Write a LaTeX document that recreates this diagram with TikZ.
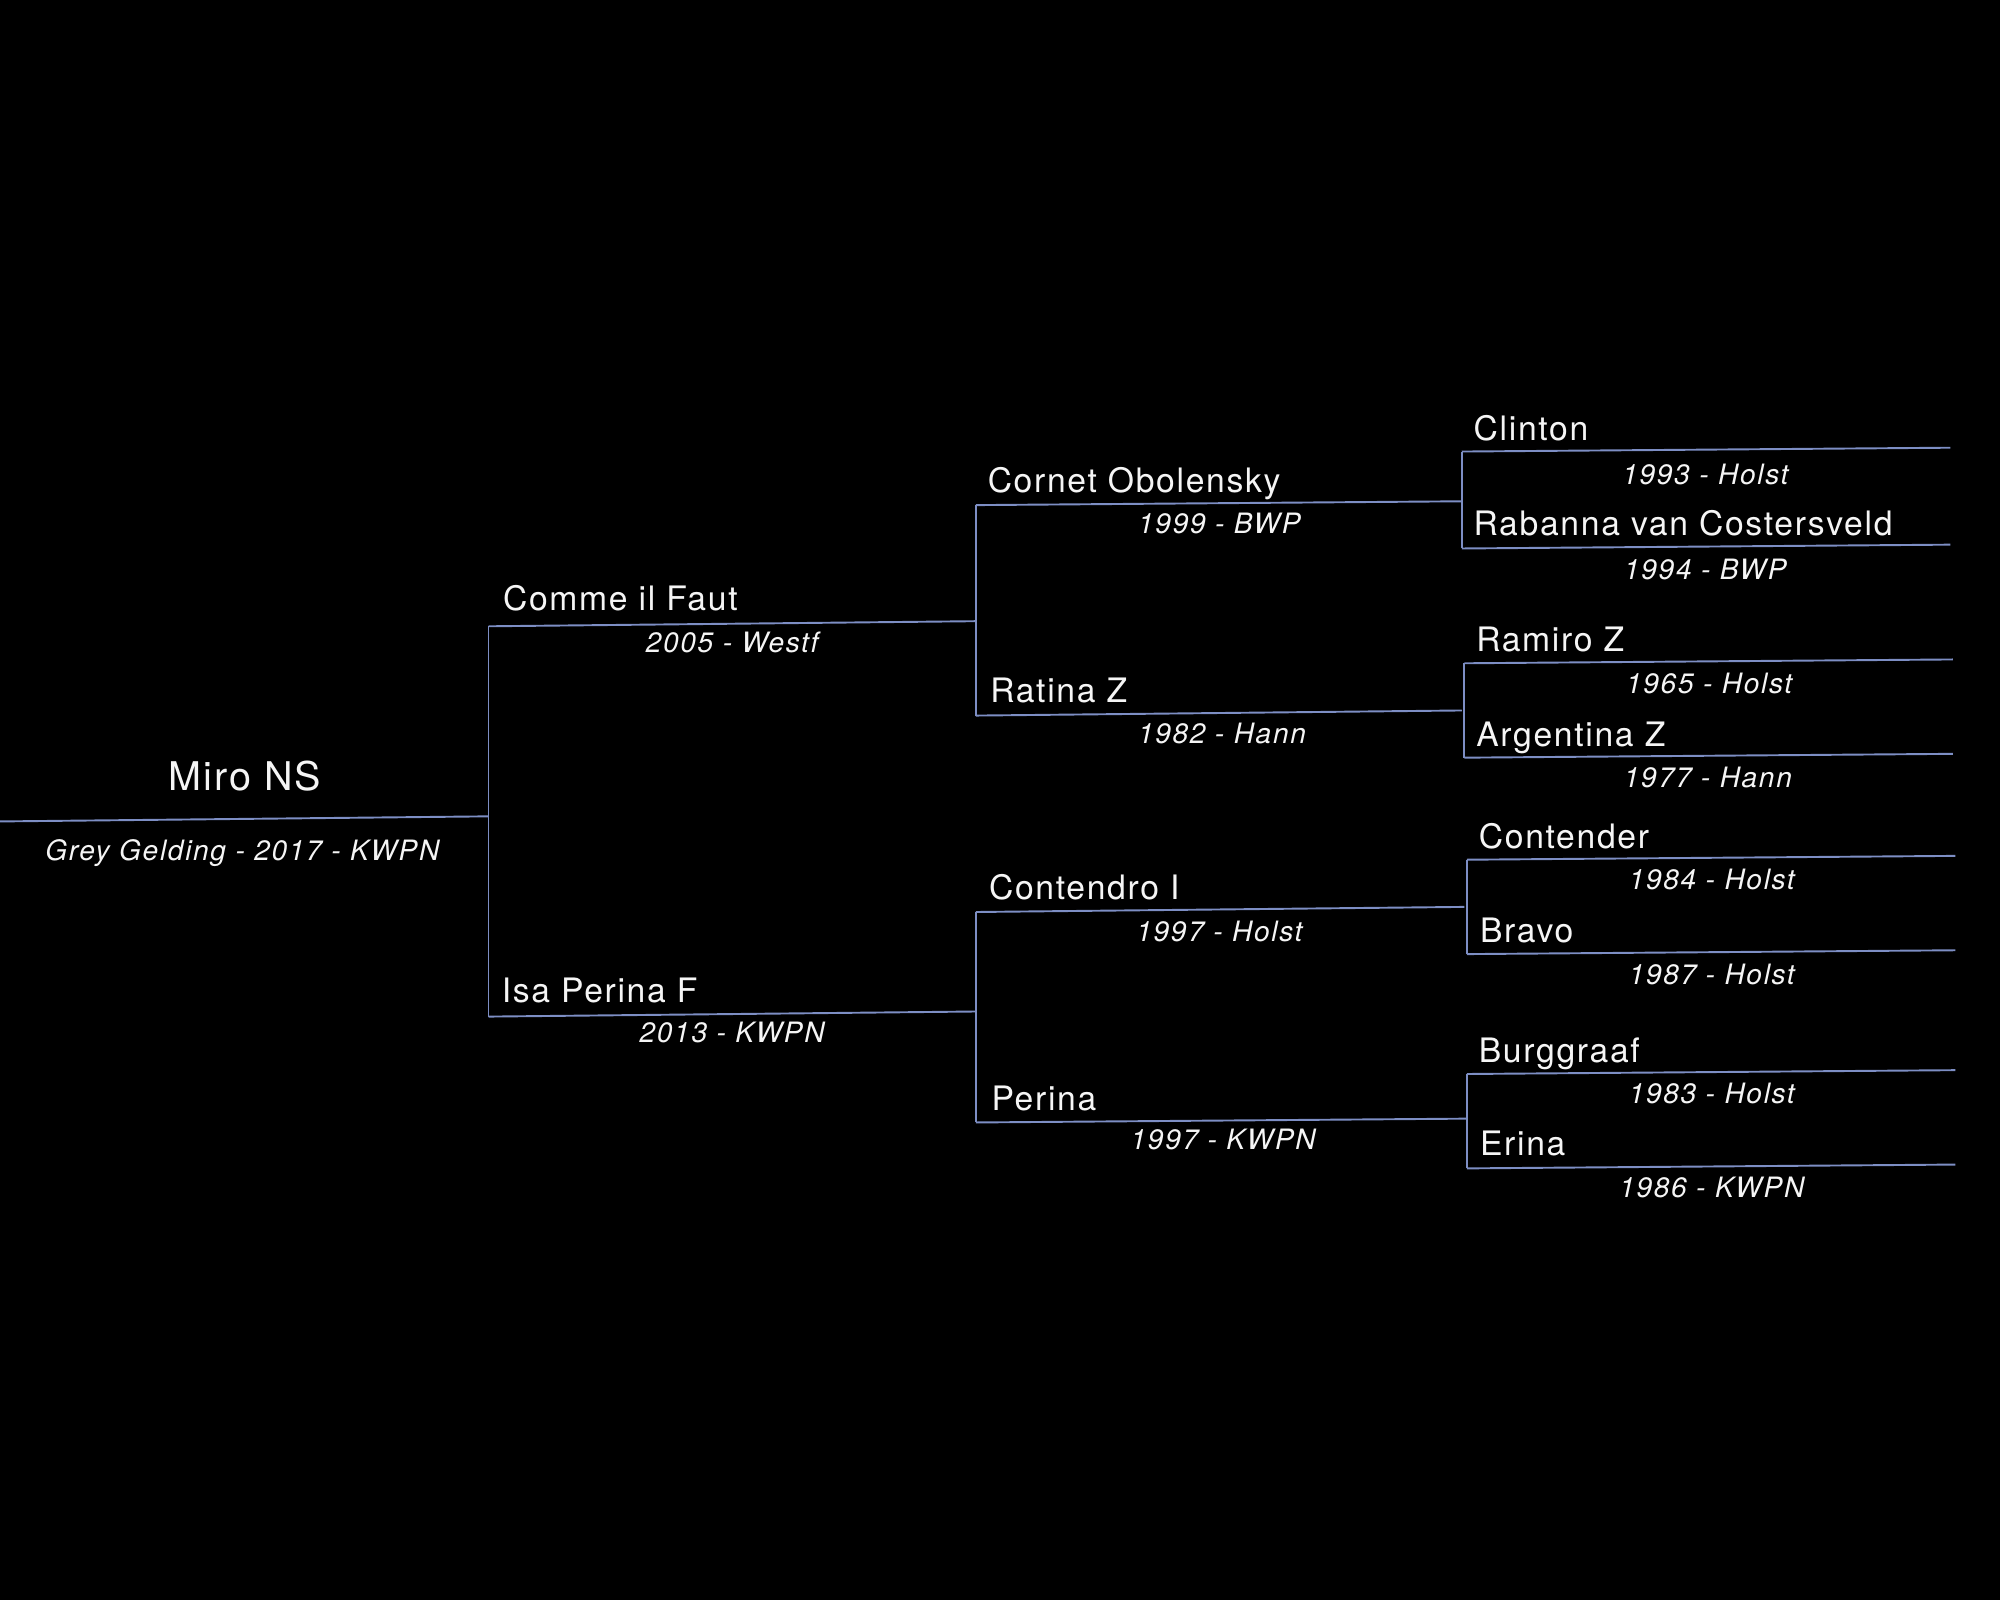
\documentclass[tikz,border=0pt]{standalone}
\usepackage{fontspec}
\usepackage{tikz}
\newfontfamily\horsefont[LetterSpace=5]{TeX Gyre Heros}
\newfontfamily\infofont[LetterSpace=6]{TeX Gyre Heros}
\definecolor{linkblue}{RGB}{125,142,196}
\definecolor{inktext}{RGB}{245,245,245}
\tikzset{
  horse/.style={anchor=base west, inner sep=0pt, text=inktext,
                font=\horsefont\fontsize{13.2}{15}\selectfont},
  subject/.style={anchor=base, inner sep=0pt, text=inktext,
                  font=\horsefont\fontsize{15.5}{18}\selectfont},
  info/.style={anchor=base, inner sep=0pt, text=inktext,
               font=\infofont\itshape\fontsize{11}{13}\selectfont},
  link/.style={draw=linkblue, line width=0.75pt},
}

\begin{document}
\begin{tikzpicture}[x=0.5pt, y=-0.5pt]
  \fill[black] (0,0) rectangle (1568,1254);
  \useasboundingbox (0,0) rectangle (1568,1254);

  % subject
  \coordinate (miro-l) at (0,644);
  \coordinate (miro-r) at (383,640);
  \node[subject] (miro) at (192,620) {Miro NS};
  \node[info] (miro-i) at (190,674.5) {Grey Gelding - 2017 - KWPN};

  % parents
  \coordinate (comme-l) at (383,491);
  \coordinate (comme-r) at (765,487);
  \node[horse] (comme) at (394,479) {Comme il Faut};
  \node[info] (comme-i) at (574,511.5) {2005 - Westf};

  \coordinate (isa-l) at (383,797);
  \coordinate (isa-r) at (765,793);
  \node[horse] (isa) at (393,786) {Isa Perina F};
  \node[info] (isa-i) at (574,817.5) {2013 - KWPN};

  % grandparents
  \coordinate (cornet-l) at (765,396);
  \coordinate (cornet-r) at (1146,393);
  \node[horse] (cornet) at (774,386) {Cornet Obolensky};
  \node[info] (cornet-i) at (956,418.5) {1999 - BWP};

  \coordinate (ratina-l) at (765,561);
  \coordinate (ratina-r) at (1146,557);
  \node[horse] (ratina) at (776,551) {Ratina Z};
  \node[info] (ratina-i) at (958,582.5) {1982 - Hann};

  \coordinate (contendro-l) at (765,715);
  \coordinate (contendro-r) at (1148,711);
  \node[horse] (contendro) at (775,705) {Contendro I};
  \node[info] (contendro-i) at (956,738.5) {1997 - Holst};

  \coordinate (perina-l) at (765,880);
  \coordinate (perina-r) at (1150,877);
  \node[horse] (perina) at (777,871) {Perina};
  \node[info] (perina-i) at (959,901.5) {1997 - KWPN};

  % great-grandparents
  \coordinate (clinton-l) at (1146,354);
  \coordinate (clinton-r) at (1529,351);
  \node[horse] (clinton) at (1155,345) {Clinton};
  \node[info] (clinton-i) at (1337,379.5) {1993 - Holst};

  \coordinate (rabanna-l) at (1146,430);
  \coordinate (rabanna-r) at (1529,427);
  \node[horse] (rabanna) at (1155,420) {Rabanna van Costersveld};
  \node[info] (rabanna-i) at (1337,454.5) {1994 - BWP};

  \coordinate (ramiro-l) at (1148,520);
  \coordinate (ramiro-r) at (1531,517);
  \node[horse] (ramiro) at (1157,511) {Ramiro Z};
  \node[info] (ramiro-i) at (1340,543.5) {1965 - Holst};

  \coordinate (argentina-l) at (1148,594);
  \coordinate (argentina-r) at (1531,591);
  \node[horse] (argentina) at (1157,585) {Argentina Z};
  \node[info] (argentina-i) at (1339,617.5) {1977 - Hann};

  \coordinate (contender-l) at (1150,674);
  \coordinate (contender-r) at (1533,671);
  \node[horse] (contender) at (1159,665) {Contender};
  \node[info] (contender-i) at (1342,697.5) {1984 - Holst};

  \coordinate (bravo-l) at (1150,748);
  \coordinate (bravo-r) at (1533,745);
  \node[horse] (bravo) at (1160,739) {Bravo};
  \node[info] (bravo-i) at (1342,771.5) {1987 - Holst};

  \coordinate (burggraaf-l) at (1150,842);
  \coordinate (burggraaf-r) at (1533,839);
  \node[horse] (burggraaf) at (1159,833) {Burggraaf};
  \node[info] (burggraaf-i) at (1342,865.5) {1983 - Holst};

  \coordinate (erina-l) at (1150,916);
  \coordinate (erina-r) at (1533,913);
  \node[horse] (erina) at (1160,906) {Erina};
  \node[info] (erina-i) at (1342,938.5) {1986 - KWPN};

  % lines
  \foreach \h in {miro, comme, isa, cornet, ratina, contendro, perina,
                  clinton, rabanna, ramiro, argentina, contender, bravo, burggraaf, erina}
    \draw[link] (\h-l) -- (\h-r);
  \draw[link] (comme-l) -- (isa-l);
  \draw[link] (cornet-l) -- (ratina-l);
  \draw[link] (contendro-l) -- (perina-l);
  \draw[link] (clinton-l) -- (rabanna-l);
  \draw[link] (ramiro-l) -- (argentina-l);
  \draw[link] (contender-l) -- (bravo-l);
  \draw[link] (burggraaf-l) -- (erina-l);
\end{tikzpicture}
\end{document}
